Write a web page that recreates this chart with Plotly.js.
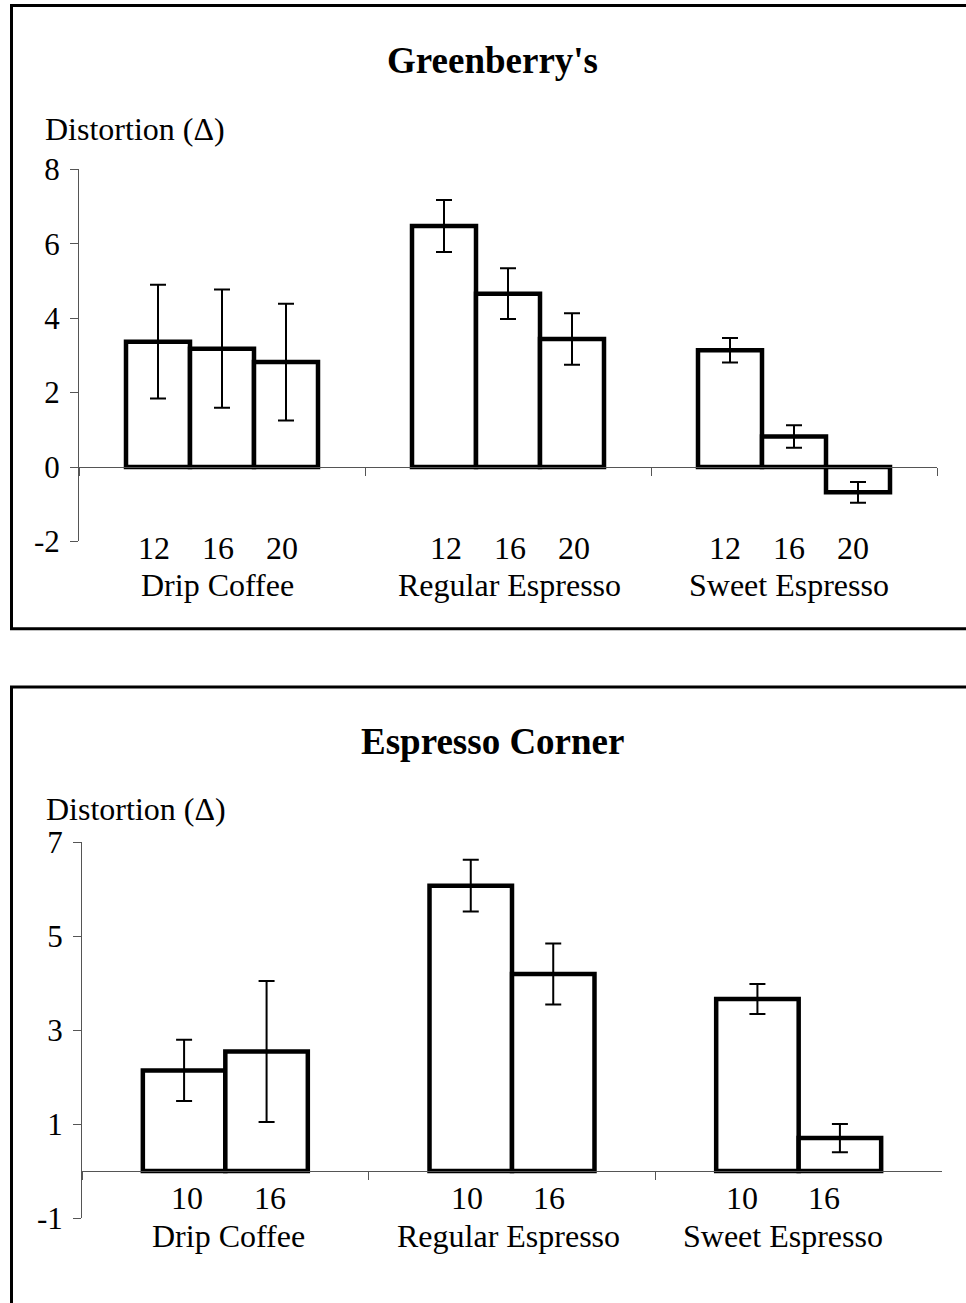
<!DOCTYPE html>
<html><head><meta charset="utf-8">
<script src="https://cdn.plot.ly/plotly-3.0.1.min.js"></script>
<style>html,body{margin:0;padding:0;background:#fff;overflow:hidden}</style>
</head><body>
<div id="top" style="width:966px;height:657px"></div>
<div id="bottom" style="width:966px;height:646px"></div>
<script>
// ---------- DATA ----------
const groups = ['Drip Coffee', 'Regular Espresso', 'Sweet Espresso'];
const yTitle = 'Distortion (\u0394)';

const gbTitle = "Greenberry's";
const gbSizes = ['12', '16', '20'];
const gb12 = [3.37, 6.48, 3.14];
const gb16 = [3.18, 4.66, 0.82];
const gb20 = [2.82, 3.44, -0.68];
const gb12Err = [1.53, 0.70, 0.33];
const gb16Err = [1.59, 0.68, 0.30];
const gb20Err = [1.57, 0.69, 0.28];
const gbYTicks = [-2, 0, 2, 4, 6, 8];
const gbYTickText = ['-2', '0', '2', '4', '6', '8'];

const ecTitle = 'Espresso Corner';
const ecSizes = ['10', '16'];
const ec10 = [2.14, 6.07, 3.66];
const ec16 = [2.54, 4.19, 0.70];
const ec10Err = [0.65, 0.55, 0.32];
const ec16Err = [1.50, 0.65, 0.30];
const ecYTicks = [-1, 1, 3, 5, 7];
const ecYTickText = ['-1', '1', '3', '5', '7'];

// ---------- STYLE ----------
const FONT = 'Liberation Serif, Times New Roman, serif';
const AXC = '#555555';
const W = 966;

function makeChart(div, H, cfg) {
  const py = v => 1 - v / H;
  const px = v => v / W;
  const n = cfg.series.length;
  const traces = cfg.series.map((vals, i) => ({
    type: 'bar', x: groups, y: vals,
    marker: {color: 'white', line: {color: 'black', width: 4.5}},
    error_y: {type: 'data', array: cfg.errs[i], visible: true, color: 'black', thickness: 2, width: 8},
    showlegend: false, hoverinfo: 'skip'
  }));
  const w = (1 - cfg.bargap) / n;
  const ann = [];
  groups.forEach((g, gi) => {
    const sh = cfg.labelShift[gi];
    cfg.sizes.forEach((s, i) => {
      ann.push({x: gi - (1 - cfg.bargap) / 2 + w * (i + 0.5), xref: 'x', xshift: sh, y: py(cfg.subY), yref: 'paper',
        text: s, showarrow: false, xanchor: 'center', yanchor: 'middle', font: {family: FONT, size: 32, color: 'black'}});
    });
    ann.push({x: gi, xref: 'x', xshift: sh, y: py(cfg.grpY), yref: 'paper', text: g, showarrow: false,
      xanchor: 'center', yanchor: 'middle', font: {family: FONT, size: 32, color: 'black'}});
  });
  ann.push({x: px(492.5), xref: 'paper', y: py(cfg.titleY), yref: 'paper', text: cfg.title, showarrow: false,
    xanchor: 'center', yanchor: 'middle', font: {family: FONT, size: 37, color: 'black', weight: 'bold'}});
  ann.push({x: px(cfg.ylabX), xref: 'paper', y: py(cfg.ylabY), yref: 'paper', text: yTitle, showarrow: false,
    xanchor: 'left', yanchor: 'middle', font: {family: FONT, size: 32, color: 'black'}});

  const layout = {
    width: W, height: H, margin: {l: 0, r: 0, t: 0, b: 0},
    paper_bgcolor: 'white', plot_bgcolor: 'rgba(0,0,0,0)',
    barmode: 'group', bargap: cfg.bargap, bargroupgap: 0,
    xaxis: {type: 'category', domain: [px(cfg.x0), px(cfg.x1)], range: [-0.5, groups.length - 0.5],
      anchor: 'free', position: py(cfg.zeroY), showline: true, linecolor: AXC, linewidth: 1,
      ticks: 'outside', tickson: 'boundaries', ticklen: 8, tickcolor: AXC, tickwidth: 1,
      showticklabels: false, showgrid: false, zeroline: false, fixedrange: true},
    yaxis: {domain: [py(cfg.yBot), py(cfg.yTop)], range: cfg.yRange, tickvals: cfg.yTicks, ticktext: cfg.yTickText,
      showline: true, linecolor: AXC, linewidth: 1, ticks: 'outside', ticklen: 8, tickcolor: AXC, tickwidth: 1,
      ticklabelstandoff: 4,
      tickfont: {family: FONT, size: 31, color: 'black'}, showgrid: false, zeroline: false, fixedrange: true},
    annotations: ann,
    shapes: [{type: 'rect', xref: 'paper', yref: 'paper', x0: px(11.5), x1: 1.02, y0: py(cfg.bTop), y1: py(cfg.bBot),
      line: {color: 'black', width: 3}, fillcolor: 'rgba(0,0,0,0)'}]
  };
  Plotly.newPlot(div, traces, layout, {staticPlot: true, displayModeBar: false});
}

makeChart('top', 657, {
  series: [gb12, gb16, gb20], errs: [gb12Err, gb16Err, gb20Err], sizes: gbSizes,
  bargap: 0.3287, title: gbTitle, yTicks: gbYTicks, yTickText: gbYTickText, yRange: [-2, 8],
  x0: 79, x1: 937, yBot: 541.4, yTop: 169.4, zeroY: 467,
  subY: 548, grpY: 584.5, titleY: 60.8, ylabX: 43, ylabY: 128.5,
  labelShift: [-4.5, 1.5, -5],
  bTop: 5.5, bBot: 628.7
});
makeChart('bottom', 646, {
  series: [ec10, ec16], errs: [ec10Err, ec16Err], sizes: ecSizes,
  bargap: 0.4245, title: ecTitle, yTicks: ecYTicks, yTickText: ecYTickText, yRange: [-1, 7],
  x0: 82, x1: 942, yBot: 561, yTop: 185, zeroY: 514,
  subY: 540.7, grpY: 578.6, titleY: 84.8, ylabX: 44, ylabY: 151.5,
  labelShift: [3, -4, -15.5],
  bTop: 30, bBot: 700
});
</script>
</body></html>
